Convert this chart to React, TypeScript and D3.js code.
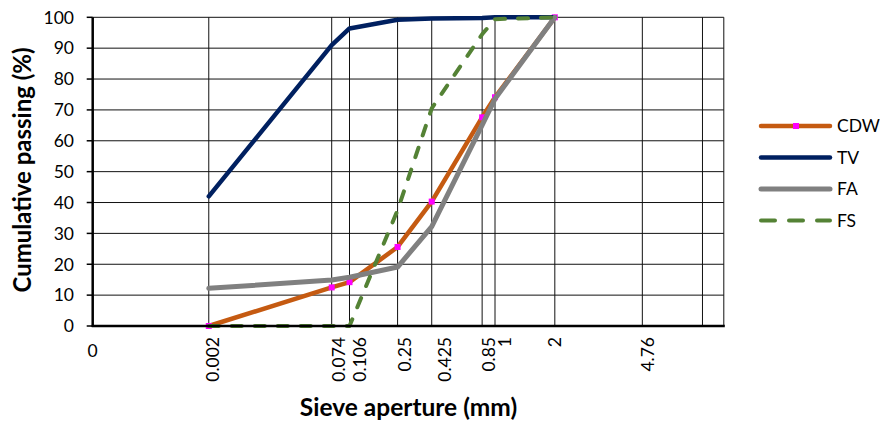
import React, { useEffect, useRef } from 'react';
import * as d3 from 'd3';

// sieve apertures (mm) where the curves were measured
const sieveSizes = [0.002, 0.074, 0.106, 0.25, 0.425, 0.85, 1, 2];

// cumulative passing (%) per material
const cdwPassing = [0, 12.5, 14.2, 25.6, 40.3, 67.6, 74.1, 100];
const tvPassing = [42, 91, 96.4, 99.2, 99.6, 99.8, 100, 100];
const faPassing = [12.2, 14.9, 15.8, 19.1, 32.2, 65.1, 73.6, 100];
const fsPassing = [0, 0, 0, 37.5, 70.5, 94.5, 99.4, 100];

const xTickValues = [0.002, 0.074, 0.106, 0.25, 0.425, 0.85, 1, 2, 4.76];
const xTickLabels = ['0.002', '0.074', '0.106', '0.25', '0.425', '0.85', '1', '2', '4.76'];
const xExtraGrid = [8, 9.5];
const yTicks = [0, 10, 20, 30, 40, 50, 60, 70, 80, 90, 100];

const App = () => {
  const chartRef = useRef<SVGSVGElement>(null);

  useEffect(() => {
    const width = 880;
    const height = 421;
    const font = 'Lato, "Open Sans", sans-serif';

    const svg = d3.select(chartRef.current);
    svg.selectAll('*').remove();
    svg.attr('width', width).attr('height', height);

    const x = d3.scalePow().exponent(0.2).domain([0, 9.5]).range([92.7, 723.8]);
    const y = d3.scaleLinear().domain([0, 100]).range([326, 17.3]);

    // grid
    const grid = svg.append('g').attr('stroke', '#111').attr('stroke-width', 1);
    grid
      .selectAll('.hg')
      .data(yTicks.filter((t) => t > 0))
      .enter()
      .append('line')
      .attr('x1', x(0))
      .attr('x2', x(9.5))
      .attr('y1', (d) => y(d))
      .attr('y2', (d) => y(d));
    grid
      .selectAll('.vg')
      .data(xTickValues.concat(xExtraGrid))
      .enter()
      .append('line')
      .attr('x1', (d) => x(d))
      .attr('x2', (d) => x(d))
      .attr('y1', y(0))
      .attr('y2', y(100));

    // y axis
    const yAxis = svg.append('g');
    yAxis
      .append('line')
      .attr('x1', x(0))
      .attr('x2', x(0))
      .attr('y1', y(0) + 1)
      .attr('y2', y(100))
      .attr('stroke', '#000')
      .attr('stroke-width', 2.5);
    yAxis
      .selectAll('.tick')
      .data(yTicks)
      .enter()
      .append('line')
      .attr('x1', x(0) - 6)
      .attr('x2', x(0))
      .attr('y1', (d) => y(d))
      .attr('y2', (d) => y(d))
      .attr('stroke', '#000')
      .attr('stroke-width', 1.5);
    yAxis
      .selectAll('.lbl')
      .data(yTicks)
      .enter()
      .append('text')
      .attr('x', 74)
      .attr('y', (d) => y(d))
      .attr('dy', '0.36em')
      .attr('text-anchor', 'end')
      .style('font-family', font)
      .style('font-size', '17.5px')
      .text((d) => d);

    // x labels (rotated), each nudged like the original text boxes
    const labelNudge = [4, 7, 10, 7.5, 12.5, 7, 10, 0, 5.5];
    svg
      .selectAll('.xl')
      .data(xTickValues)
      .enter()
      .append('text')
      .attr('transform', (d, i) => `translate(${x(d) + labelNudge[i]},337) rotate(-90)`)
      .attr('dy', '0.36em')
      .attr('text-anchor', 'end')
      .style('font-family', font)
      .style('font-size', '17.5px')
      .text((d, i) => xTickLabels[i]);
    svg
      .append('text')
      .attr('x', x(0))
      .attr('y', 357)
      .attr('text-anchor', 'middle')
      .style('font-family', font)
      .style('font-size', '17.5px')
      .text('0');

    const series = [
      { name: 'CDW', values: cdwPassing, color: '#C55A11', width: 4.5, dash: null, markers: true },
      { name: 'TV', values: tvPassing, color: '#002060', width: 4.5, dash: null, markers: false },
      { name: 'FA', values: faPassing, color: '#808080', width: 5, dash: null, markers: false },
      { name: 'FS', values: fsPassing, color: '#548235', width: 4, dash: '10,13', markers: false },
    ];

    const line = d3
      .line<number>()
      .x((d, i) => x(sieveSizes[i]))
      .y((d) => y(d));

    series.forEach((s) => {
      svg
        .append('path')
        .attr('d', line(s.values))
        .attr('fill', 'none')
        .attr('stroke', s.color)
        .attr('stroke-width', s.width)
        .attr('stroke-linejoin', 'round')
        .attr('stroke-linecap', 'round')
        .attr('stroke-dasharray', s.dash);
      if (s.markers) {
        svg
          .selectAll('.m' + s.name)
          .data(s.values)
          .enter()
          .append('rect')
          .attr('x', (d, i) => x(sieveSizes[i]) - 3)
          .attr('y', (d) => y(d) - 3)
          .attr('width', 6)
          .attr('height', 6)
          .attr('fill', '#FF00FF');
      }
    });

    // bottom axis on top of the curves
    svg
      .append('line')
      .attr('x1', x(0) - 1)
      .attr('x2', x(9.5) + 1)
      .attr('y1', y(0))
      .attr('y2', y(0))
      .attr('stroke', '#000')
      .attr('stroke-width', 2.5);

    // legend
    const legend = svg.append('g');
    series.forEach((s, i) => {
      const ly = 126 + i * 31.5;
      legend
        .append('line')
        .attr('x1', 761)
        .attr('x2', 830)
        .attr('y1', ly)
        .attr('y2', ly)
        .attr('stroke', s.color)
        .attr('stroke-width', s.width)
        .attr('stroke-linecap', 'round')
        .attr('stroke-dasharray', s.dash ? '14,14' : null);
      if (s.markers) {
        legend
          .append('rect')
          .attr('x', 793)
          .attr('y', ly - 3)
          .attr('width', 6)
          .attr('height', 6)
          .attr('fill', '#FF00FF');
      }
      legend
        .append('text')
        .attr('x', 837)
        .attr('y', ly)
        .attr('dy', '0.36em')
        .style('font-family', font)
        .style('font-size', '17.5px')
        .text(s.name);
    });

    // axis titles
    svg
      .append('text')
      .attr('x', 408.5)
      .attr('y', 416)
      .attr('text-anchor', 'middle')
      .style('font-family', font)
      .style('font-size', '24.5px')
      .style('font-weight', 'bold')
      .text('Sieve aperture (mm)');
    svg
      .append('text')
      .attr('transform', 'translate(31,170) rotate(-90)')
      .attr('text-anchor', 'middle')
      .style('font-family', font)
      .style('font-size', '24px')
      .style('font-weight', 'bold')
      .text('Cumulative passing (%)');
  }, []);

  return (
    <svg ref={chartRef} style={{ position: 'absolute', left: 0, top: 0, background: '#fff' }}></svg>
  );
};

export default App;
